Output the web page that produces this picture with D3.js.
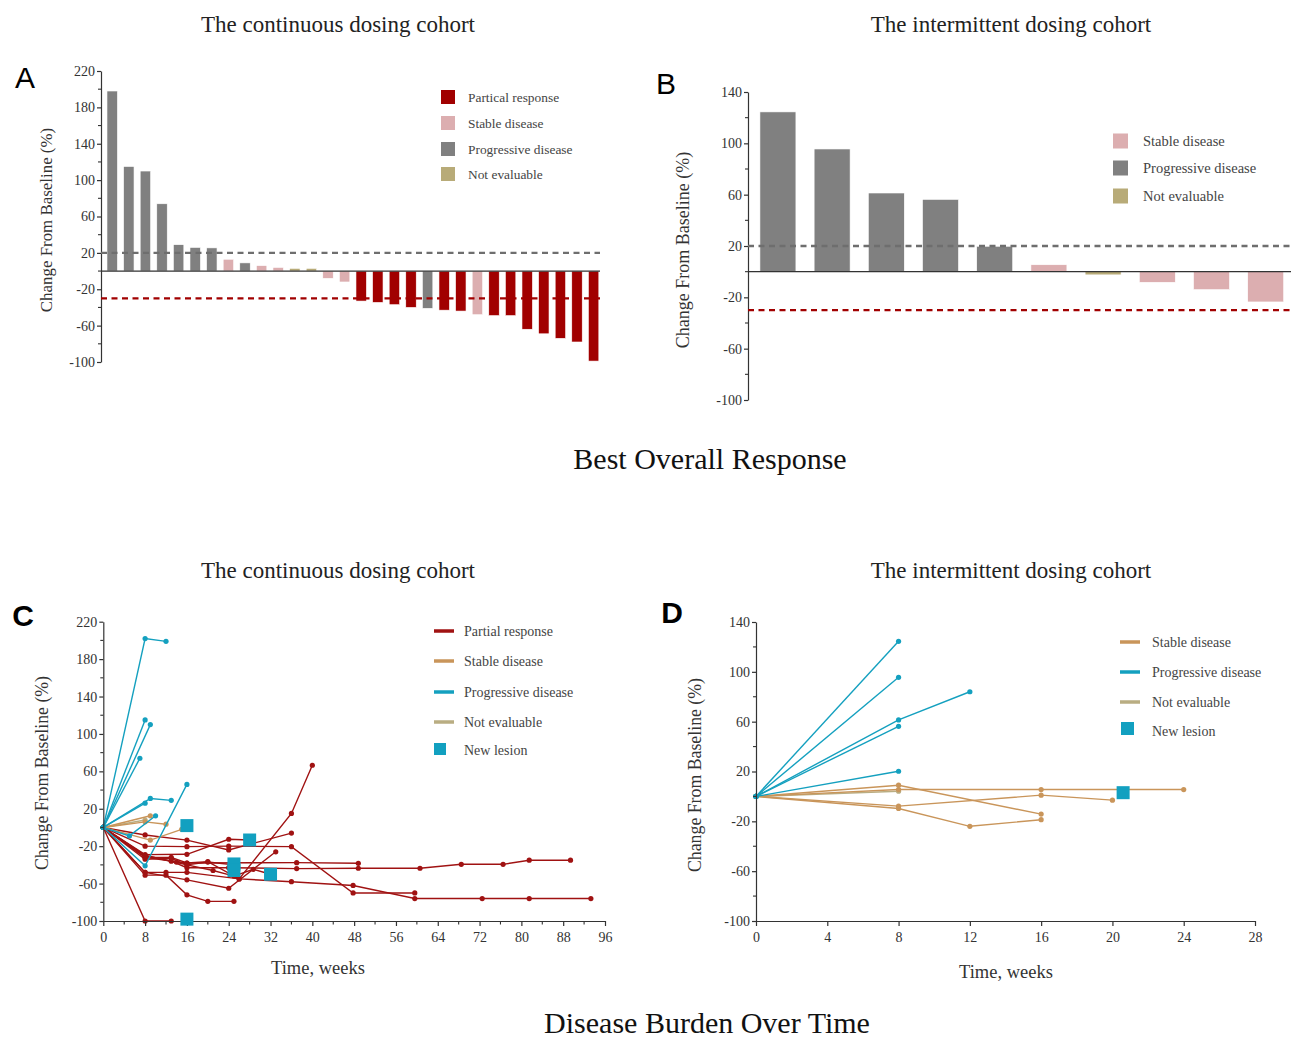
<!DOCTYPE html>
<html><head><meta charset="utf-8">
<script src="https://cdn.jsdelivr.net/npm/d3@7"></script>
<style>body{margin:0;background:#fff} text{font-family:"Liberation Serif","Times New Roman",serif}</style>
</head><body><svg id="c" width="1291" height="1038"></svg>
<script>
// ---------- DATA ----------
const aCategories = ["PD","PD","PD","PD","PD","PD","PD","SD","PD","SD","SD","NE","NE","SD","SD",
  "PR","PR","PR","PR","PD","PR","PR","SD","PR","PR","PR","PR","PR","PR","PR"];
const aValues = [198,115,110,74,29,26,25.5,13,9,6,4,3,3,-8,-12,
  -33,-34.5,-37,-40,-41,-43,-44,-48,-49,-49,-64,-69,-74,-78,-99];
const bCategories = ["PD","PD","PD","PD","PD","SD","NE","SD","SD","SD"];
const bValues = [124.5,95.6,61.3,56.3,19.8,5.4,-2.5,-8.3,-14,-23.6];
const aYTicks = [220,180,140,100,60,20,-20,-60,-100];
const bYTicks = [140,100,60,20,-20,-60,-100];
const thresholds = [20,-30];

const cPR = [
  [[0,0],[8,-8],[16,-13.5],[24,-24],[36,-6]],
  [[0,0],[8,-20],[16,-20.5],[24,-20],[36,-20.5],[47.8,-70],[59.6,-70]],
  [[0,0],[8,-29],[16,-28.7],[24,-12.6],[28,-13.4]],
  [[0,0],[8,-32],[13,-32],[16,-38],[20,-36.5],[26,-55],[36,15],[40,66.5]],
  [[0,0],[8,-48],[16,-56],[24,-65],[33,-26]],
  [[0,0],[8,-51],[12,-51],[16,-72],[20,-79],[25,-79]],
  [[0,0],[8,-100],[13,-100]],
  [[0,0],[8,-32],[13,-36],[16,-43],[24,-43],[37,-44],[48.8,-43.6],[60.6,-43.6],[68.5,-39.4],[76.5,-39.4],[81.5,-35],[89.4,-35]],
  [[0,0],[8,-30],[14,-37],[16,-38],[37,-37.6],[48.8,-38.3]],
  [[0,0],[8,-48],[12,-48],[16,-48],[26,-55],[36,-58],[47.8,-62],[59.6,-76],[72.5,-76],[81.5,-76],[93.3,-76]],
  [[0,0],[8,-34],[13,-33],[16,-40],[20,-37],[25,-40]],
  [[0,0],[8,-30],[16,-40],[21,-46],[25,-52],[28.7,-44.7],[32,-50]]
];
const cSD = [
  [[0,0],[9,12.5]],
  [[0,0],[8,6],[12,3.5]],
  [[0,0],[9,-13.5],[15,-2]]
];
const cPD = [
  [[0,0],[8,202],[12,199]],
  [[0,0],[8,115]],
  [[0,0],[9,110]],
  [[0,0],[7,74]],
  [[0,0],[8,26]],
  [[0,0],[9,31],[13,29]],
  [[0,0],[8,-41],[16,46]],
  [[0,0],[5,-9],[10,12.5]]
];
const cNE = [ [[0,0],[8,8]] ];
const cNewLesion = [[16,2],[16,-98],[28,-13.4],[25,-39],[25,-46],[32,-50]];
const cXTicks = [0,8,16,24,32,40,48,56,64,72,80,88,96];
const cYTicks = [220,180,140,100,60,20,-20,-60,-100];

const dSD = [
  [[0,0],[8,9],[16,-14.2]],
  [[0,0],[8,5.5],[16,5.5],[24,5.5]],
  [[0,0],[8,-7.8],[16,1],[20,-3]],
  [[0,0],[8,-9.7],[12,-24],[16,-18.7]]
];
const dNE = [ [[0,0],[8,4.2]] ];
const dPD = [
  [[0,0],[8,124.5]],
  [[0,0],[8,95.6]],
  [[0,0],[8,61.4],[12,84]],
  [[0,0],[8,56.3]],
  [[0,0],[8,20.2]]
];
const dNewLesion = [[20.6,3]];
const dXTicks = [0,4,8,12,16,20,24,28];
const dYTicks = [140,100,60,20,-20,-60,-100];

// ---------- STYLE ----------
const barColor = {PR:"#a10000", SD:"#dcaeb0", PD:"#808080", NE:"#b8ab78"};
const lineColor = {PR:"#a01212", SD:"#c9955a", PD:"#14a0bf", NE:"#b9ad82"};
const nlColor = "#12a0c0";
const axisColor = "#333";
const tickSize = 14;

const svg = d3.select("#c");

function text(x,y,s,opt={}){
  const t = svg.append("text").attr("x",x).attr("y",y).text(s)
    .attr("font-size",opt.size||13).attr("fill",opt.fill||"#333")
    .attr("text-anchor",opt.anchor||"start").attr("dominant-baseline","central");
  if(opt.family) t.style("font-family",opt.family);
  if(opt.weight) t.attr("font-weight",opt.weight);
  if(opt.rotate) t.attr("transform",`rotate(${opt.rotate},${x},${y})`);
  return t;
}

function yAxis(x, y, ticks, minorStep){
  const g = svg.append("g").attr("transform",`translate(${x},0)`);
  const [d0,d1] = y.domain();
  const minors = d3.range(d0, d1+0.001, minorStep).filter(v=>!ticks.includes(v));
  const ax = d3.axisLeft(y).tickValues(ticks).tickFormat(d=>String(d)).tickSize(4).tickSizeOuter(0);
  g.call(ax);
  g.selectAll(".tick text").attr("font-size",tickSize).attr("fill","#333").attr("x",-6).style("font-family","Liberation Serif");
  g.selectAll("line,path").attr("stroke",axisColor).attr("stroke-width",1.2);
  g.selectAll(".minor").data(minors).enter().append("line").attr("class","minor")
    .attr("x1",-3).attr("x2",0).attr("y1",d=>y(d)).attr("y2",d=>y(d)).attr("stroke",axisColor).attr("stroke-width",1.1);
  return g;
}

function waterfall(cats, vals, yDom, yRange, xRange, pIn, pOut, x0, xEnd, yTicksArr){
  const y = d3.scaleLinear().domain(yDom).range(yRange);
  const x = d3.scaleBand().domain(d3.range(vals.length)).range(xRange).paddingInner(pIn).paddingOuter(pOut).align(0.5);
  svg.append("g").selectAll("rect").data(vals).enter().append("rect")
    .attr("x",(d,i)=>x(i)).attr("width",x.bandwidth())
    .attr("y",d=>y(Math.max(0,d))).attr("height",d=>Math.abs(y(d)-y(0)))
    .attr("fill",(d,i)=>barColor[cats[i]]).attr("stroke","#fff").attr("stroke-width",0.6);
  yAxis(x0, y, yTicksArr, 20);
  svg.append("line").attr("x1",x0).attr("x2",xEnd).attr("y1",y(0)).attr("y2",y(0)).attr("stroke",axisColor).attr("stroke-width",1.2);
  svg.append("line").attr("x1",x0).attr("x2",xEnd).attr("y1",y(thresholds[0])).attr("y2",y(thresholds[0]))
    .attr("stroke","#6e6e6e").attr("stroke-width",2.3).attr("stroke-dasharray","6,4.5");
  svg.append("line").attr("x1",x0).attr("x2",xEnd).attr("y1",y(thresholds[1])).attr("y2",y(thresholds[1]))
    .attr("stroke","#a10000").attr("stroke-width",2.3).attr("stroke-dasharray","6,4.5");
}

// Panel A
waterfall(aCategories, aValues, [-100,220], [362,71], [101,604.8], 0.37, 0.36, 101, 600, aYTicks);
// Panel B
waterfall(bCategories, bValues, [-100,140], [400,92], [748,1295.6], 0.336, 0.22, 748, 1291, bYTicks);

// Legends A, B
const legA = [["PR","Partical response"],["SD","Stable disease"],["PD","Progressive disease"],["NE","Not evaluable"]];
legA.forEach((d,i)=>{
  const cy = [97,123,149,174][i];
  svg.append("rect").attr("x",441).attr("y",cy-7).attr("width",14).attr("height",14).attr("fill",barColor[d[0]]);
  text(468,cy,d[1],{size:13.4,fill:"#444"});
});
const legB = [["SD","Stable disease"],["PD","Progressive disease"],["NE","Not evaluable"]];
legB.forEach((d,i)=>{
  const cy = [141,168,196][i];
  svg.append("rect").attr("x",1113).attr("y",cy-7.5).attr("width",15).attr("height",15).attr("fill",barColor[d[0]]);
  text(1143,cy,d[1],{size:14.5,fill:"#444"});
});

// Spider plots
function spider(xDom,xRange,yDom,yRange,xTicks,yTicksArr,xMinorStep,groups,nl){
  const x = d3.scaleLinear().domain(xDom).range(xRange);
  const y = d3.scaleLinear().domain(yDom).range(yRange);
  const line = d3.line().x(d=>x(d[0])).y(d=>y(d[1]));
  groups.forEach(([key,paths])=>{
    const g = svg.append("g");
    g.selectAll("path").data(paths).enter().append("path").attr("d",line)
      .attr("fill","none").attr("stroke",lineColor[key]).attr("stroke-width",1.4);
    g.selectAll("circle").data(paths.flat()).enter().append("circle")
      .attr("cx",d=>x(d[0])).attr("cy",d=>y(d[1])).attr("r",2.6).attr("fill",lineColor[key]);
  });
  yAxis(xRange[0], y, yTicksArr, 20);
  const gx = svg.append("g").attr("transform",`translate(0,${yRange[0]})`);
  gx.call(d3.axisBottom(x).tickValues(xTicks).tickFormat(d=>String(d)).tickSize(5).tickSizeOuter(0));
  gx.selectAll(".tick text").attr("font-size",tickSize).attr("fill","#333").attr("dy","0.9em").style("font-family","Liberation Serif");
  gx.selectAll("line,path").attr("stroke",axisColor).attr("stroke-width",1.2);
  if(xMinorStep){
    const minors = d3.range(xDom[0],xDom[1]+0.001,xMinorStep).filter(v=>!xTicks.includes(v));
    gx.selectAll(".minor").data(minors).enter().append("line").attr("x1",d=>x(d)).attr("x2",d=>x(d))
      .attr("y1",0).attr("y2",3.5).attr("stroke",axisColor).attr("stroke-width",1.1);
  }
  svg.append("g").selectAll("rect").data(nl).enter().append("rect")
    .attr("x",d=>x(d[0])-6.5).attr("y",d=>y(d[1])-6.5).attr("width",13).attr("height",13).attr("fill",nlColor);
}

spider([0,96],[103.3,605],[-100,220],[921,621.7],cXTicks,cYTicks,4,
  [["PR",cPR],["NE",cNE],["SD",cSD],["PD",cPD]], cNewLesion);
spider([0,28],[756,1255],[-100,140],[921,622],dXTicks,dYTicks,null,
  [["NE",dNE],["SD",dSD],["PD",dPD]], dNewLesion);

// Legends C, D
const legC = [["PR","Partial response"],["SD","Stable disease"],["PD","Progressive disease"],["NE","Not evaluable"]];
legC.forEach((d,i)=>{
  const cy = [631,661,692,722][i];
  svg.append("line").attr("x1",434).attr("x2",454).attr("y1",cy).attr("y2",cy).attr("stroke",lineColor[d[0]]).attr("stroke-width",3.5);
  text(464,cy,d[1],{size:14,fill:"#444"});
});
svg.append("rect").attr("x",434).attr("y",743).attr("width",12).attr("height",12).attr("fill",nlColor);
text(464,750,"New lesion",{size:14,fill:"#444"});

const legD = [["SD","Stable disease"],["PD","Progressive disease"],["NE","Not evaluable"]];
legD.forEach((d,i)=>{
  const cy = [642,672,702][i];
  svg.append("line").attr("x1",1120).attr("x2",1140).attr("y1",cy).attr("y2",cy).attr("stroke",lineColor[d[0]]).attr("stroke-width",3.5);
  text(1152,cy,d[1],{size:14,fill:"#444"});
});
svg.append("rect").attr("x",1121).attr("y",722).attr("width",13).attr("height",13).attr("fill",nlColor);
text(1152,731,"New lesion",{size:14,fill:"#444"});

// Axis titles
text(46,220,"Change From Baseline (%)",{size:16.9,anchor:"middle",rotate:-90});
text(683,250,"Change From Baseline (%)",{size:18,anchor:"middle",rotate:-90});
text(42,773,"Change From Baseline (%)",{size:17.8,anchor:"middle",rotate:-90});
text(695,775,"Change From Baseline (%)",{size:17.8,anchor:"middle",rotate:-90});
text(318,968,"Time, weeks",{size:18.5,anchor:"middle"});
text(1006,972,"Time, weeks",{size:18.5,anchor:"middle"});

// Titles
text(338,24,"The continuous dosing cohort",{size:23,anchor:"middle",fill:"#222"});
text(1011,24,"The intermittent dosing cohort",{size:23,anchor:"middle",fill:"#222"});
text(338,570,"The continuous dosing cohort",{size:23,anchor:"middle",fill:"#222"});
text(1011,570,"The intermittent dosing cohort",{size:23,anchor:"middle",fill:"#222"});
text(710,458,"Best Overall Response",{size:30,anchor:"middle",fill:"#111"});
text(707,1022,"Disease Burden Over Time",{size:30,anchor:"middle",fill:"#111"});

// Panel letters
const sans = "Liberation Sans, Arial, sans-serif";
text(25,77,"A",{size:30,anchor:"middle",fill:"#000",family:sans});
text(666,83,"B",{size:30,anchor:"middle",fill:"#000",family:sans});
text(23,615,"C",{size:30,anchor:"middle",fill:"#000",family:sans,weight:"bold"});
text(672,612,"D",{size:30,anchor:"middle",fill:"#000",family:sans,weight:"bold"});
</script></body></html>
